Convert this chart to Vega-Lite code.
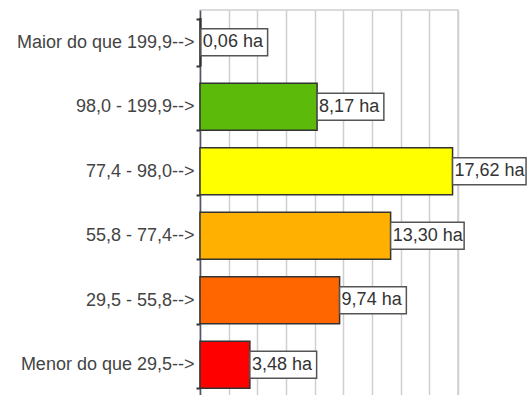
{
  "$schema": "https://vega.github.io/schema/vega-lite/v6.json",
  "width": 258,
  "height": 387,
  "autosize": {"type": "none"},
  "padding": {"left": 200, "top": 10, "right": 69, "bottom": 0},
  "background": "white",
  "data": {
    "values": [
      {"classe": "Maior do que 199,9-->", "area": 0.06, "label": "0,06 ha"},
      {"classe": "98,0 - 199,9-->", "area": 8.17, "label": "8,17 ha"},
      {"classe": "77,4 - 98,0-->", "area": 17.62, "label": "17,62 ha"},
      {"classe": "55,8 - 77,4-->", "area": 13.30, "label": "13,30 ha"},
      {"classe": "29,5 - 55,8-->", "area": 9.74, "label": "9,74 ha"},
      {"classe": "Menor do que 29,5-->", "area": 3.48, "label": "3,48 ha"}
    ]
  },
  "encoding": {
    "y": {
      "field": "classe",
      "type": "nominal",
      "sort": null,
      "scale": {"paddingInner": 0.27, "paddingOuter": 0.135},
      "axis": {
        "title": null,
        "tickBand": "extent",
        "tickSize": 4,
        "tickColor": "#333",
        "tickWidth": 2,
        "domainColor": "#556",
        "domainWidth": 1.5,
        "labelFont": "Liberation Sans",
        "labelFontSize": 18,
        "labelColor": "#444",
        "labelPadding": 2,
        "labelLimit": 300
      }
    },
    "x": {
      "field": "area",
      "type": "quantitative",
      "scale": {"domain": [0, 18], "nice": false},
      "axis": {
        "title": null,
        "values": [0, 2, 4, 6, 8, 10, 12, 14, 16, 18],
        "labels": false,
        "ticks": false,
        "domain": false,
        "grid": true,
        "gridColor": "#cfcfcf",
        "gridWidth": 1.5
      }
    }
  },
  "layer": [
    {
      "mark": {"type": "bar", "stroke": "#333", "strokeWidth": 1.5},
      "encoding": {
        "color": {
          "field": "classe",
          "type": "nominal",
          "legend": null,
          "scale": {
            "domain": ["Maior do que 199,9-->", "98,0 - 199,9-->", "77,4 - 98,0-->", "55,8 - 77,4-->", "29,5 - 55,8-->", "Menor do que 29,5-->"],
            "range": ["#1a3a00", "#5cbb0a", "#ffff00", "#ffb000", "#ff6600", "#ff0000"]
          }
        }
      }
    },
    {
      "mark": {"type": "point", "filled": true, "fill": "white", "stroke": "#555", "strokeWidth": 1.5, "opacity": 1, "size": 900},
      "encoding": {
        "shape": {
          "condition": {"test": "datum.area >= 10", "value": "M0,-0.9H4.9V0.9H0Z"},
          "value": "M0,-0.9H4.45V0.9H0Z"
        }
      }
    },
    {
      "mark": {"type": "text", "align": "left", "baseline": "middle", "dx": 2, "font": "Liberation Sans", "fontSize": 18, "color": "#333"},
      "encoding": {"text": {"field": "label"}}
    }
  ],
  "config": {"view": {"stroke": "#cfcfcf", "strokeWidth": 1.5}}
}
